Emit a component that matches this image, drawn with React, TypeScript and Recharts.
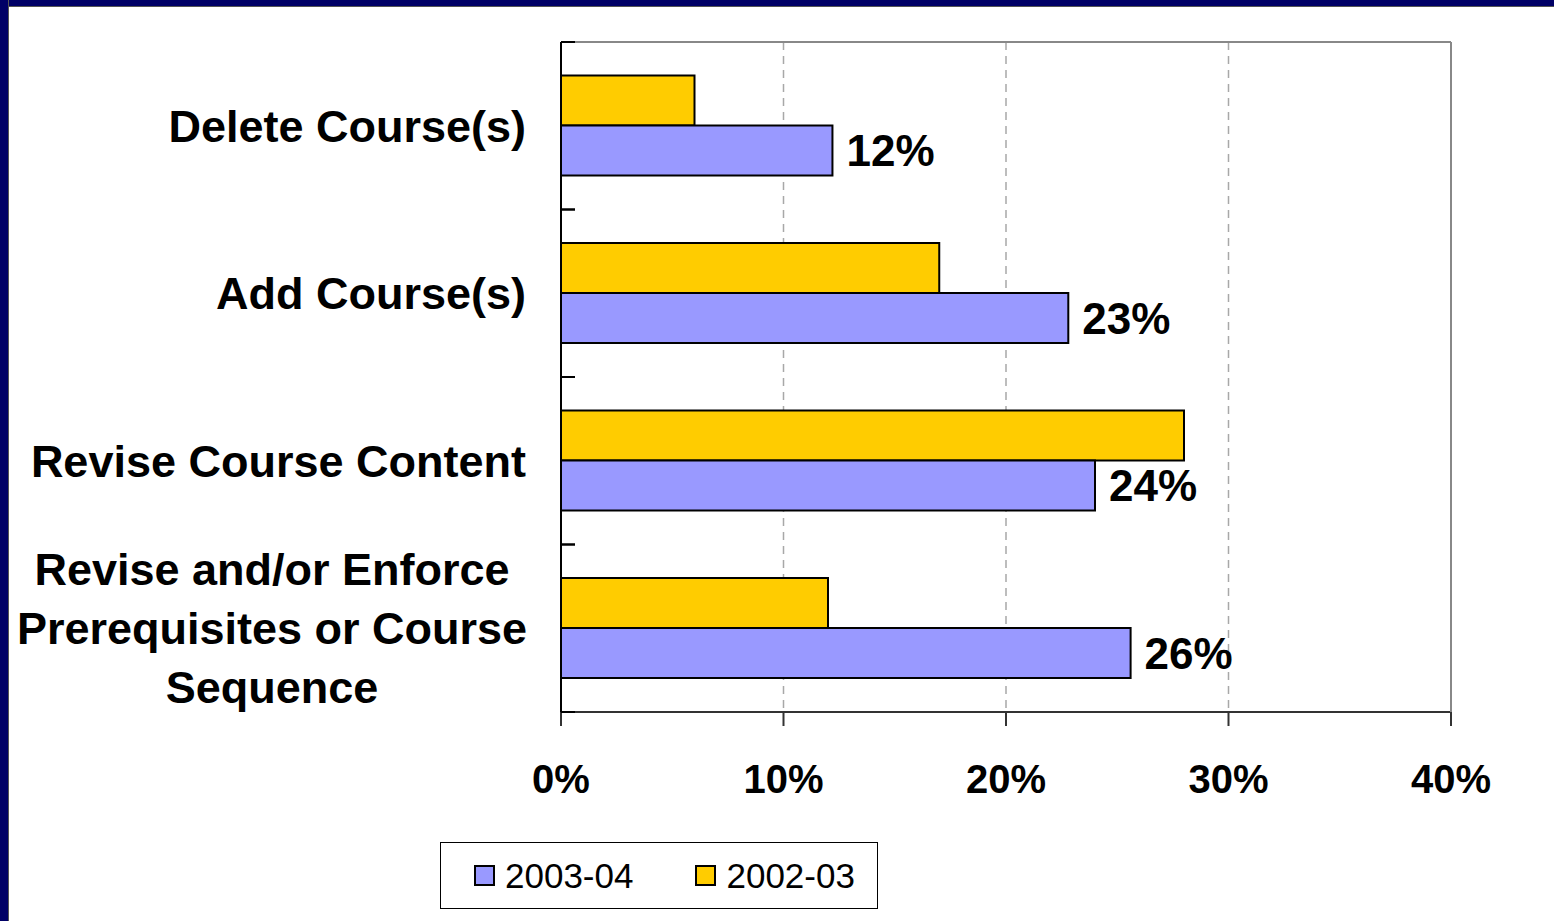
import React from 'react';
import { BarChart, Bar, XAxis, YAxis, CartesianGrid, Legend, LabelList } from 'recharts';

const categories = [
  'Delete Course(s)',
  'Add Course(s)',
  'Revise Course Content',
  'Revise and/or Enforce\nPrerequisites or Course\nSequence',
];
const values2003 = [12.2, 22.8, 24.0, 25.6];
const values2002 = [6.0, 17.0, 28.0, 12.0];
const xTicks = [0, 10, 20, 30, 40];

const data = categories.map((name, i) => ({
  name,
  y2003: values2003[i],
  y2002: values2002[i],
}));

const FONT = '"Liberation Sans", Arial, Helvetica, sans-serif';
const W = 1554;
const H = 921;
const LEGEND_H = 67;
const X_AXIS_H = 100;
const margin = { top: 41, right: 102, left: 0, bottom: H - 712 - X_AXIS_H - LEGEND_H };
const plotHeight = 712 - 42;
const bandHalf = plotHeight / categories.length / 2;

const CategoryTick = (props: any) => {
  const { x, y, payload } = props;
  const lines = String(payload.value).split('\n');
  const axisX = x + 35;
  const marks = (
    <>
      <line x1={axisX} x2={axisX + 14} y1={y - bandHalf} y2={y - bandHalf} stroke="#000" strokeWidth={2} />
      <line x1={axisX} x2={axisX + 14} y1={y + bandHalf} y2={y + bandHalf} stroke="#000" strokeWidth={2} />
    </>
  );
  if (lines.length === 1) {
    return (
      <g>
        {marks}
        <text x={x} y={y} dy="0.35em" textAnchor="end" fontFamily={FONT} fontWeight="bold" fontSize={45} fill="#000">
          {lines[0]}
        </text>
      </g>
    );
  }
  const cx = x - 254;
  return (
    <g>
      {marks}
      {lines.map((l, i) => (
        <text
          key={i}
          x={cx}
          y={y + (i - (lines.length - 1) / 2) * 59}
          dy="0.35em"
          textAnchor="middle"
          fontFamily={FONT}
          fontWeight="bold"
          fontSize={45}
          fill="#000"
        >
          {l}
        </text>
      ))}
    </g>
  );
};

const LegendBox = (props: any) => {
  const items = [...(props.payload || [])].reverse();
  return (
    <div
      style={{
        boxSizing: 'border-box',
        width: 438,
        height: LEGEND_H,
        border: '1px solid #000',
        background: '#fff',
        display: 'flex',
        alignItems: 'center',
        paddingLeft: 33,
        fontFamily: FONT,
        fontSize: 35,
        color: '#000',
        whiteSpace: 'nowrap',
      }}
    >
      {items.map((it: any) => (
        <div key={it.value} style={{ display: 'flex', alignItems: 'center', marginRight: 62, flexShrink: 0 }}>
          <span
            style={{
              boxSizing: 'border-box',
              width: 21,
              height: 21,
              background: it.color,
              border: '2px solid #000',
              marginRight: 10,
              flexShrink: 0,
            }}
          />
          <span>{it.value}</span>
        </div>
      ))}
    </div>
  );
};

export default function App() {
  return (
    <div style={{ position: 'absolute', left: 0, top: 0, width: W, height: H, background: '#fff', overflow: 'hidden' }}>
      <div style={{ position: 'absolute', left: 0, top: 0, width: W, height: 6, background: '#000066', borderBottom: '1px solid #555' }} />
      <div style={{ position: 'absolute', left: 0, top: 0, width: 8, height: H, background: '#000066', borderRight: '1px solid #555' }} />
      <div style={{ position: 'absolute', left: 0, top: 0 }}>
        <BarChart
          width={W}
          height={H}
          data={data}
          layout="vertical"
          margin={margin}
          barCategoryGap="20%"
          barGap={0}
        >
          <CartesianGrid horizontal={false} stroke="#a8a8a8" strokeDasharray="8 6" strokeWidth={1.5} />
          <XAxis
            type="number"
            domain={[0, 40]}
            ticks={xTicks}
            tickFormatter={(v) => `${v}%`}
            height={X_AXIS_H}
            axisLine={{ stroke: '#333', strokeWidth: 2 }}
            tickLine={{ stroke: '#333', strokeWidth: 2 }}
            tickSize={14}
            tickMargin={39}
            tick={{ fontFamily: FONT, fontWeight: 'bold', fontSize: 40, fill: '#000' }}
          />
          <XAxis
            xAxisId="top"
            orientation="top"
            type="number"
            domain={[0, 40]}
            height={1}
            tick={false}
            tickLine={false}
            axisLine={{ stroke: '#888', strokeWidth: 2 }}
          />
          <YAxis
            type="category"
            dataKey="name"
            width={561}
            tickSize={0}
            tickMargin={35}
            tickLine={false}
            interval={0}
            axisLine={{ stroke: '#000', strokeWidth: 2 }}
            tick={<CategoryTick />}
          />
          <YAxis
            yAxisId="right"
            orientation="right"
            type="category"
            dataKey="name"
            width={1}
            tick={false}
            tickLine={false}
            axisLine={{ stroke: '#888', strokeWidth: 2 }}
          />
          <Legend
            content={<LegendBox />}
            wrapperStyle={{ position: 'absolute', left: 440, top: 842, width: 438, height: LEGEND_H, bottom: 'auto' }}
          />
          <Bar dataKey="y2002" name="2002-03" fill="#FFCC00" stroke="#000" strokeWidth={2} isAnimationActive={false} />
          <Bar dataKey="y2003" name="2003-04" fill="#9999FF" stroke="#000" strokeWidth={2} isAnimationActive={false}>
            <LabelList
              dataKey="y2003"
              position="right"
              offset={14}
              formatter={(v: any) => `${Math.round(Number(v))}%`}
              style={{ fontFamily: FONT, fontWeight: 'bold', fontSize: 44, fill: '#000' }}
            />
          </Bar>
        </BarChart>
      </div>
    </div>
  );
}
